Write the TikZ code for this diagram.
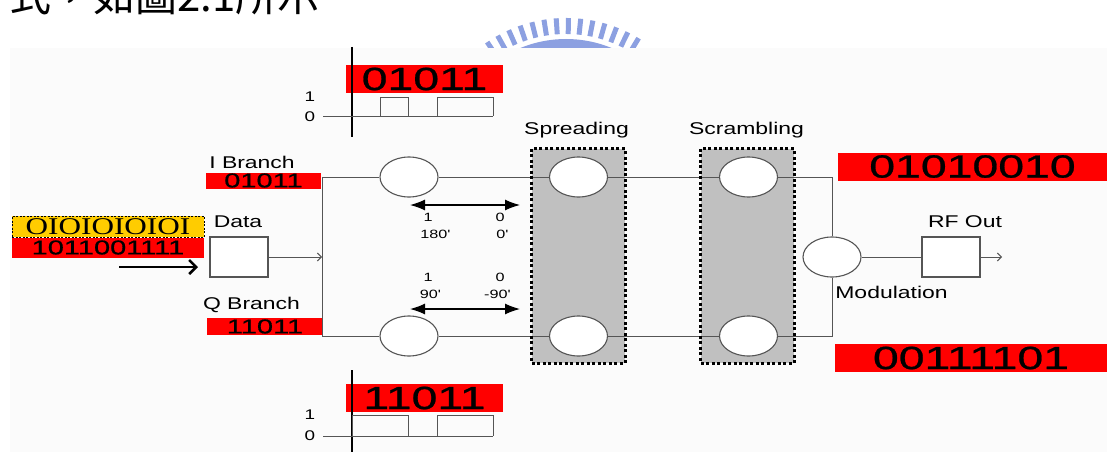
\documentclass[tikz,border=0pt]{standalone}
\usepackage{fontspec}
\setmainfont{Liberation Sans}[FakeStretch=1.35]
\newfontfamily\dig{Liberation Sans}[FakeStretch=1.45,FakeBold=0.8]
\newfontfamily\ser{Liberation Serif}[FakeStretch=1.3]
\newfontfamily\cjk{Noto Sans CJK TC}
\usetikzlibrary{shapes.geometric,arrows.meta}
\definecolor{ln}{HTML}{555555}
\definecolor{gold}{HTML}{FFCC00}
\definecolor{boxgray}{HTML}{C0C0C0}
\definecolor{wm}{RGB}{140,160,225}
\begin{document}
\begin{tikzpicture}[x=1pt,y=-1pt,
 lab/.style={inner sep=0, font=\fontsize{17}{17}\selectfont},
 sm/.style={inner sep=0, font=\fontsize{12}{12}\selectfont},
 ax/.style={inner sep=0, font=\fontsize{14}{14}\selectfont},
 redbig/.style={fill=red, inner sep=0, font=\dig\fontsize{32}{32}\selectfont},
 redsm/.style={fill=red, inner sep=0, font=\dig\fontsize{20}{20}\selectfont},
 circ/.style={ellipse, draw=ln, line width=1.1pt, fill=white, minimum width=58pt, minimum height=40pt, inner sep=0},
 blk/.style={draw=ln, line width=1.1pt, fill=white, minimum width=58pt, minimum height=40pt, inner sep=0},
 wire/.style={draw=ln, line width=1pt},
 dotb/.style={draw=black, line width=3pt, dash pattern=on 3pt off 2.5pt},
 graybox/.style={fill=boxgray, inner sep=0, minimum width=93pt, minimum height=214pt},
 dbl/.style={line width=1.3pt, {Latex[length=15pt,width=11pt]}-{Latex[length=15pt,width=11pt]}},
 pulse/.style={draw=ln, line width=1pt},
]
\useasboundingbox (0,0) rectangle (1107,452);
\clip (0,0) rectangle (1107,452);
\fill[white] (0,0) rectangle (1107,452);

% cropped caption text and watermark
\node[anchor=base west, inner sep=0, font=\cjk\fontsize{42}{42}\selectfont] (zh) at (9,12) {式，如圖2.1所示};
\foreach \a in {-124,-119,...,-56} \draw[wm, line width=5pt] (566,159) ++(\a:125) -- ++(\a:16);
\draw[wm, line width=20pt] (566,159) ++(-128:110) arc[start angle=-128, end angle=-52, radius=110];

% diagram background
\fill[gray!3] (10,48) rectangle (1107,452);

% top chart (I)
\node[redbig, minimum width=157pt, minimum height=28pt] (iword) at (424.5,79) {01011};
\draw[line width=1.8pt] (352,47) -- (352,137);
\node[ax] (one1) at (310,97) {1};
\node[ax] (zero1) at (310,117) {0};
\draw[pulse] (323,116) -- (493,116) (380,116) -- (380,97) -- (408,97) -- (408,116)
  (437,116) -- (437,97) -- (493,97) -- (493,116);

% bottom chart (Q)
\node[redbig, minimum width=157pt, minimum height=28pt] (qword) at (424.5,398) {11011};
\draw[line width=1.8pt] (352,370) -- (352,452);
\node[ax] (one2) at (310,415) {1};
\node[ax] (zero2) at (310,436) {0};
\draw[pulse] (323,436) -- (493,436) (352,436) -- (352,415) -- (408,415) -- (408,436)
  (437,436) -- (437,415) -- (493,415) -- (493,436);

% left side
\node[lab] (ibl) at (252,162) {I Branch};
\node[redsm, minimum width=115pt, minimum height=16pt] (ibw) at (263.5,180.5) {01011};
\node[lab] (qbl) at (251.5,305) {Q Branch};
\node[redsm, minimum width=116pt, minimum height=17pt] (qbw) at (265,326.5) {11011};
\node[lab] (datal) at (238,222) {Data};
\node[blk] (data) at (239,257) {};
\node[fill=gold, draw=black, line width=0.8pt, dash pattern=on 2pt off 1.5pt, minimum width=192pt, minimum height=21pt, inner sep=0, font=\ser\fontsize{24}{24}\selectfont] (yb) at (108,226.5) {OIOIOIOIOI};
\node[redsm, minimum width=192pt, minimum height=20pt] (dbits) at (108,247.5) {1011001111};
\coordinate (a1) at (119,267);
\coordinate (a2) at (198,267);
\draw[line width=2.5pt, -{Straight Barb[length=7pt,width=14pt]}] (a1) -- (a2);

% processing boxes
\node[graybox] (spbox) at (578.5,256) {};
\node[graybox] (scbox) at (747.5,256) {};
\node[lab] (spl) at (576.5,130) {Spreading};
\node[lab] (scl) at (746.5,130) {Scrambling};

\node[circ] (ia) at (409,177) {};
\node[circ] (qa) at (409,336) {};
\node[circ] (sa) at (578.5,177) {};
\node[circ] (sb) at (578.5,336) {};
\node[circ] (ca) at (748.5,177) {};
\node[circ] (cb) at (748.5,336) {};
\node[circ] (mod) at (832,257) {};
\coordinate (tl) at (322,177);
\coordinate (bl) at (322,336);
\coordinate (tr) at (832,177);
\coordinate (br) at (832,336);

\draw[wire] (tl) -- (ia) (ia) -- (sa) (sa) -- (ca) (ca) -- (tr) -- (mod)
  (mod) -- (br) -- (cb) (cb) -- (sb) (sb) -- (qa) (qa) -- (bl) -- (tl);
\draw[wire, -{Straight Barb[length=4pt,width=8pt]}] (data.east) -- (data.east -| tl);

\draw[dotb] (spbox.north west) rectangle (spbox.south east);
\draw[dotb] (scbox.north west) rectangle (scbox.south east);

% output
\node[blk] (rf) at (951,257) {};
\draw[wire] (mod) -- (rf);
\coordinate (out) at (1002,257);
\draw[wire, -{Straight Barb[length=4pt,width=8pt]}] (rf) -- (out);
\node[lab] (rfl) at (965,222) {RF Out};
\node[lab] (modl) at (891.5,292) {Modulation};
\node[redbig, minimum width=269pt, minimum height=28pt] (sw1) at (972.5,166.5) {01010010};
\node[redbig, minimum width=272pt, minimum height=28pt] (sw2) at (971,358) {00111101};

% phase mapping arrows
\coordinate (da1) at (410,205);
\coordinate (da2) at (520,205);
\draw[dbl] (da1) -- (da2);
\node[sm] (p1) at (428,217) {1};
\node[sm] (p0) at (500,217) {0};
\node[sm] (p180) at (435,234) {180\textquotesingle};
\node[sm] (p0d) at (502,234) {0\textquotesingle};
\node[sm] (q1) at (428,277) {1};
\node[sm] (q0) at (500,277) {0};
\node[sm] (q90) at (430,294) {90\textquotesingle};
\node[sm] (qm90) at (497,294) {-90\textquotesingle};
\coordinate (db1) at (410,309);
\coordinate (db2) at (520,309);
\draw[dbl] (db1) -- (db2);
\end{tikzpicture}
\end{document}
